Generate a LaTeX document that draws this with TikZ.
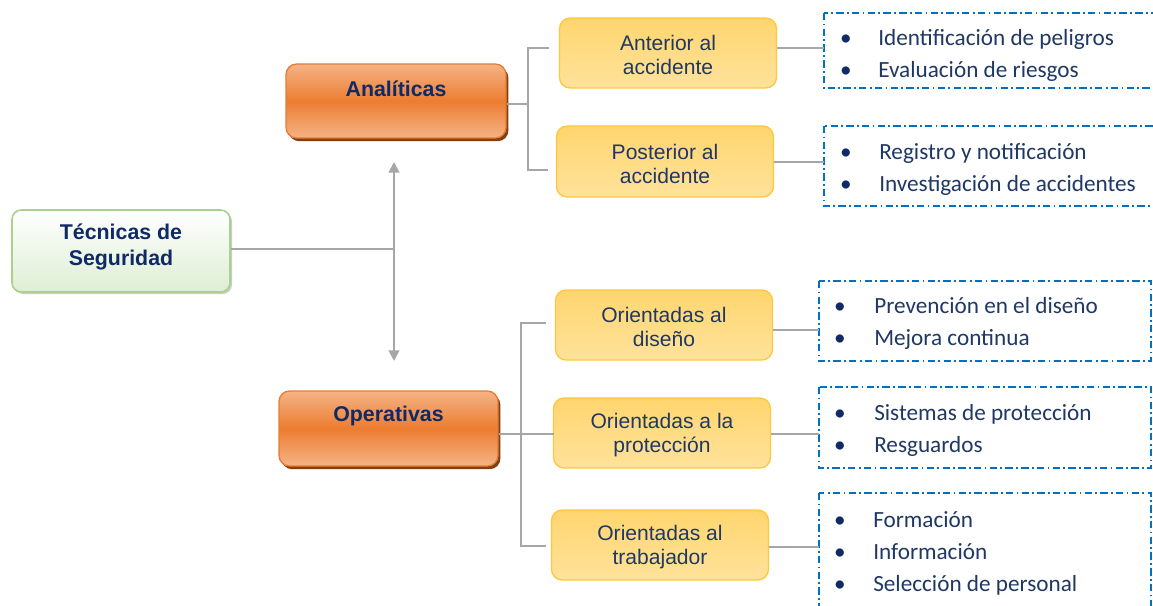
\documentclass[tikz,border=0pt]{standalone}
\usepackage{fontspec}
\setmainfont{Liberation Sans}
\newfontfamily\calib{Carlito}
\usetikzlibrary{arrows.meta,shadows}
\definecolor{navy}{HTML}{0F2A66}
\definecolor{navyb}{HTML}{1F3864}
\definecolor{conn}{HTML}{A6A6A6}
\definecolor{dashblue}{HTML}{0070C0}
\tikzset{
  conline/.style={draw=conn, line width=1.5pt},
  greenbox/.style={draw={rgb,255:red,169;green,209;blue,142}, line width=1.2pt, rounded corners=7pt,
     top color=white, bottom color={rgb,255:red,222;green,238;blue,212},
     drop shadow={shadow xshift=1.5pt, shadow yshift=-1.5pt, fill=black!25, opacity=0.8}},
  orangebox/.style={draw={rgb,255:red,230;green,125;blue,50}, line width=1pt, rounded corners=8pt,
     top color={rgb,255:red,245;green,180;blue,135},
     bottom color={rgb,255:red,245;green,180;blue,135},
     middle color={rgb,255:red,236;green,124;blue,48},
     drop shadow={shadow xshift=1.8pt, shadow yshift=-2.4pt, fill={rgb,255:red,130;green,65;blue,20}, opacity=1}},
  yellowbox/.style={draw={rgb,255:red,255;green,200;blue,60}, line width=1pt, rounded corners=8pt,
     top color={rgb,255:red,255;green,213;blue,110}, bottom color={rgb,255:red,255;green,226;blue,155},
     inner sep=0pt},
  yellowtext/.style={align=center, text=navyb, font=\fontsize{15.8}{18}\selectfont, inner sep=0pt},
  dashbox/.style={draw=dashblue, line width=1.5pt, dash pattern=on 5.5pt off 2.5pt on 1.3pt off 2.5pt},
  titletext/.style={text=navy, font=\bfseries\fontsize{16}{20}\selectfont, align=center, inner sep=0pt},
  item/.style={anchor=base west, inner sep=0pt, text=navyb, font=\calib\fontsize{17.4}{20}\selectfont},
  bul/.style={anchor=base, inner sep=0pt, text=navy, font=\calib\fontsize{17.4}{20}\selectfont},
}
\begin{document}
\begin{tikzpicture}[x=0.75pt,y=-0.75pt]
\clip (0,0) rectangle (1153,606);
\fill[white] (0,0) rectangle (1153,606);

% main nodes
\node[greenbox, minimum width=218*0.75pt, minimum height=82*0.75pt] (tec) at (121,251) {};
\node[titletext] (tect) at (121,247) {Técnicas de\\[-1pt]Seguridad};

\node[orangebox, minimum width=220*0.75pt, minimum height=74*0.75pt] (ana) at (396,101) {};
\node[titletext] (anat) at (396,89) {Analíticas};

\node[orangebox, minimum width=219*0.75pt, minimum height=75*0.75pt] (ope) at (388.5,428.5) {};
\node[titletext] (opet) at (388.5,416) {Operativas};

% second level
\node[yellowbox, minimum width=217*0.75pt, minimum height=70*0.75pt] (ant) at (668,53) {};
\node[yellowtext] (antt) at (668,55) {Anterior al\\accidente};
\node[yellowbox, minimum width=217*0.75pt, minimum height=71*0.75pt] (pos) at (665,161.5) {};
\node[yellowtext] (post) at (665,163.5) {Posterior al\\accidente};
\node[yellowbox, minimum width=217*0.75pt, minimum height=70*0.75pt] (dis) at (664,325) {};
\node[yellowtext] (dist) at (664,327) {Orientadas al\\diseño};
\node[yellowbox, minimum width=217*0.75pt, minimum height=70*0.75pt] (pro) at (662,433) {};
\node[yellowtext] (prot) at (662,435) {Orientadas a la\\protección};
\node[yellowbox, minimum width=217*0.75pt, minimum height=70*0.75pt] (tra) at (660,545) {};
\node[yellowtext] (trat) at (660,547) {Orientadas al\\trabajador};

% dashed boxes
\draw[dashbox] (824,13) rectangle (1160,88);
\coordinate (d1) at (824,48);
\draw[dashbox] (824,126) rectangle (1160,206);
\coordinate (d2) at (824,162);
\draw[dashbox] (819,281) rectangle (1151,361);
\coordinate (d3) at (819,330);
\draw[dashbox] (819,387) rectangle (1151,468);
\coordinate (d4) at (819,434);
\draw[dashbox] (819,493) rectangle (1151,620);
\coordinate (d5) at (819,547);

% items
\node[bul] (b11) at (846,46) {•}; \node[item] (i11) at (878,46) {Identificación de peligros};
\node[bul] (b12) at (846,78) {•}; \node[item] (i12) at (878,78) {Evaluación de riesgos};
\node[bul] (b21) at (846,160) {•}; \node[item] (i21) at (879,160) {Registro y notificación};
\node[bul] (b22) at (846,192) {•}; \node[item] (i22) at (879,192) {Investigación de accidentes};
\node[bul] (b31) at (840,313) {•}; \node[item] (i31) at (874,313) {Prevención en el diseño};
\node[bul] (b32) at (840,345) {•}; \node[item] (i32) at (874,345) {Mejora continua};
\node[bul] (b41) at (840,420) {•}; \node[item] (i41) at (874,420) {Sistemas de protección};
\node[bul] (b42) at (840,452) {•}; \node[item] (i42) at (874,452) {Resguardos};
\node[bul] (b51) at (840,527) {•}; \node[item] (i51) at (873,527) {Formación};
\node[bul] (b52) at (840,559) {•}; \node[item] (i52) at (873,559) {Información};
\node[bul] (b53) at (840,591) {•}; \node[item] (i53) at (873,591) {Selección de personal};

% connectors: main
\coordinate (vm) at (394,249);
\coordinate (vt) at (394,162);
\coordinate (vb) at (394,361);
\draw[conline] (tec.east |- vm) -- (vm);
\draw[conline, {Triangle[width=8pt,length=8pt]}-{Triangle[width=8pt,length=8pt]}] (vt) -- (vb);

% Analiticas bracket
\coordinate (a1) at (528,48);
\coordinate (a2) at (528,170);
\coordinate (a1e) at (549,48);
\coordinate (a2e) at (548,170);
\draw[conline] (ana.east |- 0,104) -- (528,104);
\draw[conline] (a1e) -- (a1) -- (a2) -- (a2e);

% Operativas bracket
\coordinate (o1) at (521,323);
\coordinate (o3) at (521,546);
\coordinate (o1e) at (546,323);
\coordinate (o3e) at (546,546);
\coordinate (o2e) at (554,434);
\draw[conline] (ope.east |- 0,434) -- (o2e);
\draw[conline] (o1e) -- (o1) -- (o3) -- (o3e);

% to dashed boxes
\draw[conline] (ant.east |- d1) -- (d1);
\draw[conline] (pos.east |- d2) -- (d2);
\draw[conline] (dis.east |- d3) -- (d3);
\draw[conline] (pro.east |- d4) -- (d4);
\draw[conline] (tra.east |- d5) -- (d5);
\end{tikzpicture}
\end{document}
